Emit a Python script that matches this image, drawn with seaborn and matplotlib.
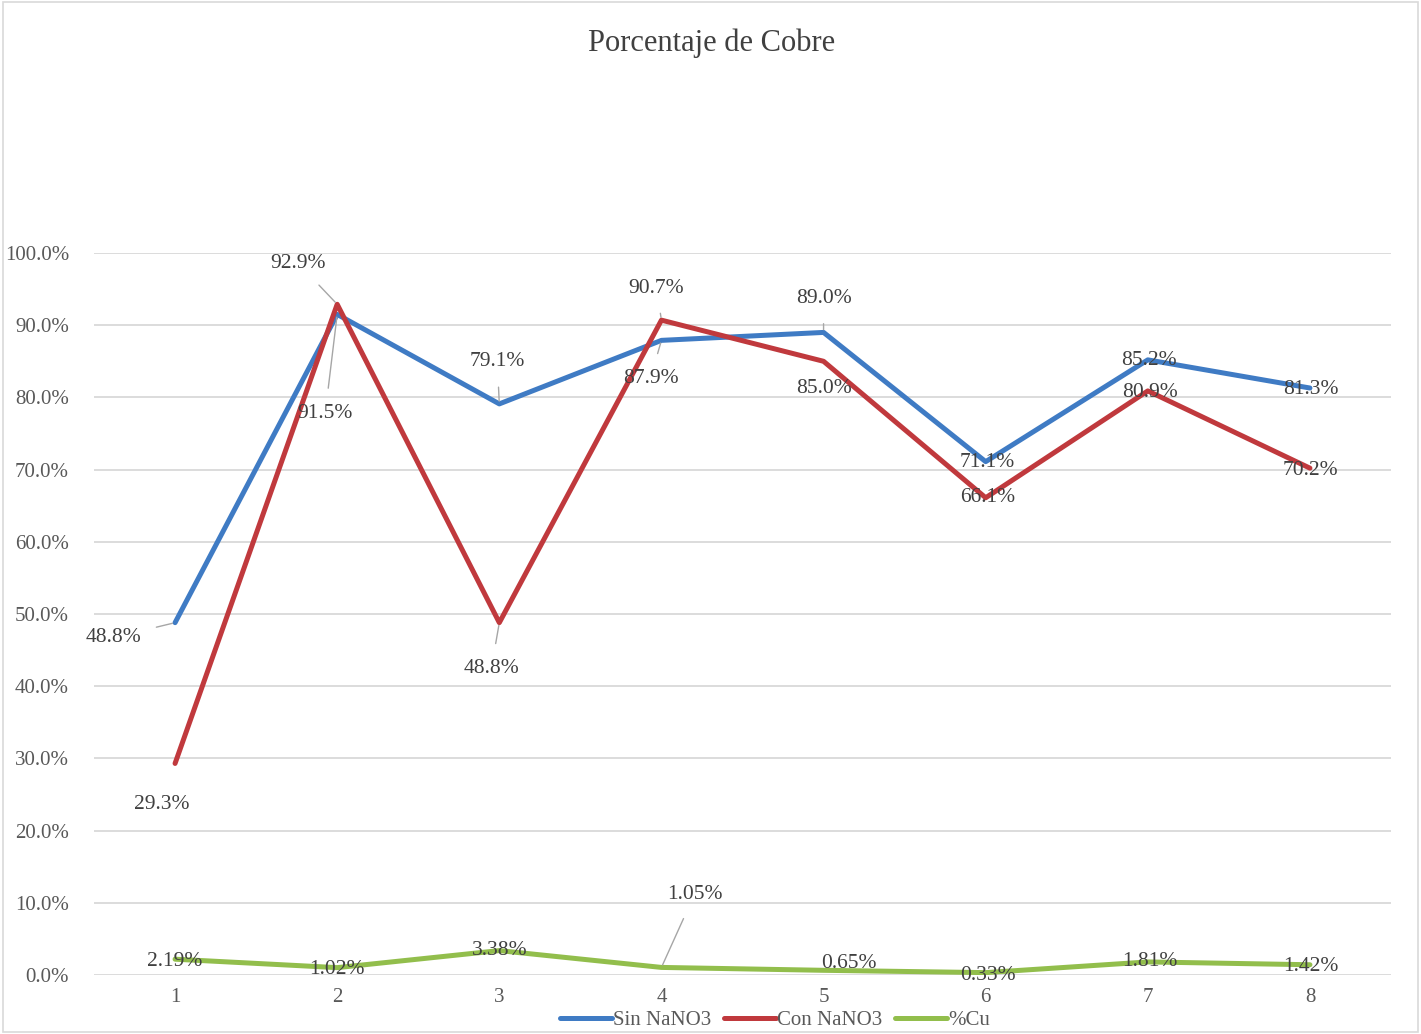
import numpy as np
import pandas as pd
import matplotlib
matplotlib.use("Agg")
import matplotlib.pyplot as plt
import seaborn as sns

muestras = [1, 2, 3, 4, 5, 6, 7, 8]
sin_nano3 = [48.8, 91.5, 79.1, 87.9, 89.0, 71.1, 85.2, 81.3]
con_nano3 = [29.3, 92.9, 48.8, 90.7, 85.0, 66.1, 80.9, 70.2]
pct_cu = [2.19, 1.02, 3.38, 1.05, 0.65, 0.33, 1.81, 1.42]
series = ["Sin NaNO3", "Con NaNO3", "%Cu"]
colores = ["#3F7BC4", "#C0393D", "#92BE4C"]

# label offsets in pixels (dx, dy) from each point, and whether a leader line is drawn
off_sin = [(-62, -15), (-12, -99), (-2, 42), (-11, -38), (0, 34), (2, -1), (1, -1), (1, -1)]
lin_sin = [True, True, True, True, True, False, False, False]
off_con = [(-13, -41), (-39, 41), (-8, -46), (-5, 32), (0, -27), (2, 0), (2, -2), (1, -2)]
lin_con = [False, True, True, True, False, False, False, False]
off_cu = [(0, -2), (0, -2), (0, 0), (33, 73), (25, 7), (2, -3), (2, 0), (1, -2)]
lin_cu = [False, False, False, True, False, False, False, False]

sns.set_theme(style="white")
plt.rcParams["font.family"] = ["Liberation Serif", "DejaVu Serif"]

df = pd.DataFrame({
    "muestra": muestras * 3,
    "valor": sin_nano3 + con_nano3 + pct_cu,
    "serie": [series[0]] * 8 + [series[1]] * 8 + [series[2]] * 8,
})

fig = plt.figure(figsize=(14.21, 10.34), dpi=100)
ax = fig.add_axes([94 / 1421, 1 - 975 / 1034, (1391 - 94) / 1421, (975 - 253) / 1034])

sns.lineplot(data=df, x="muestra", y="valor", hue="serie", palette=colores,
             linewidth=3.6, ax=ax, legend=False, sort=False)

ax.set_xlim(0.5, 8.5)
ax.set_ylim(0, 100)
ax.set_yticks(np.arange(0, 101, 10))
ax.set_yticklabels([f"{v:.1f}%" for v in np.arange(0, 101, 10)])
ax.set_xticks(muestras)
ax.set_xticklabels([str(m) for m in muestras])
ax.grid(axis="y", color="#D9D9D9", linewidth=1.3)
ax.set_axisbelow(True)
for s in ax.spines.values():
    s.set_visible(False)
ax.tick_params(axis="both", length=0, labelsize=15, colors="#595959")
ax.tick_params(axis="y", pad=18)
ax.tick_params(axis="x", pad=9)
ax.set_xlabel("")
ax.set_ylabel("")


def etiquetas(vals, offs, lineas, fmt):
    for x, v, (dx, dy), l in zip(muestras, vals, offs, lineas):
        ax.annotate(fmt.format(v), (x, v), xytext=(dx, dy), textcoords="offset pixels",
                    ha="center", va="center", fontsize=15.5, color="#404040",
                    arrowprops=dict(arrowstyle="-", color="#A6A6A6", lw=1,
                                    shrinkA=9, shrinkB=2) if l else None)


etiquetas(sin_nano3, off_sin, lin_sin, "{:.1f}%")
etiquetas(con_nano3, off_con, lin_con, "{:.1f}%")
etiquetas(pct_cu, off_cu, lin_cu, "{:.2f}%")

fig.text(712 / 1421, 1 - 43 / 1034, "Porcentaje de Cobre", ha="center", va="center",
         fontsize=22, color="#404040")

handles = [plt.Line2D([], [], color=c, linewidth=3.6) for c in colores]
fig.legend(handles, series, loc="center", bbox_to_anchor=(775 / 1421, 1 - 1020 / 1034),
           ncol=3, frameon=False, fontsize=15, handlelength=2.5, handletextpad=0.05,
           columnspacing=0.6, labelcolor="#595959", borderpad=0.1)

fig.patches.append(plt.Rectangle((0.002, 0.002), 0.996, 0.996, transform=fig.transFigure,
                                 fill=False, edgecolor="#D9D9D9", linewidth=1.2))

fig.savefig("out.png", dpi=100)
